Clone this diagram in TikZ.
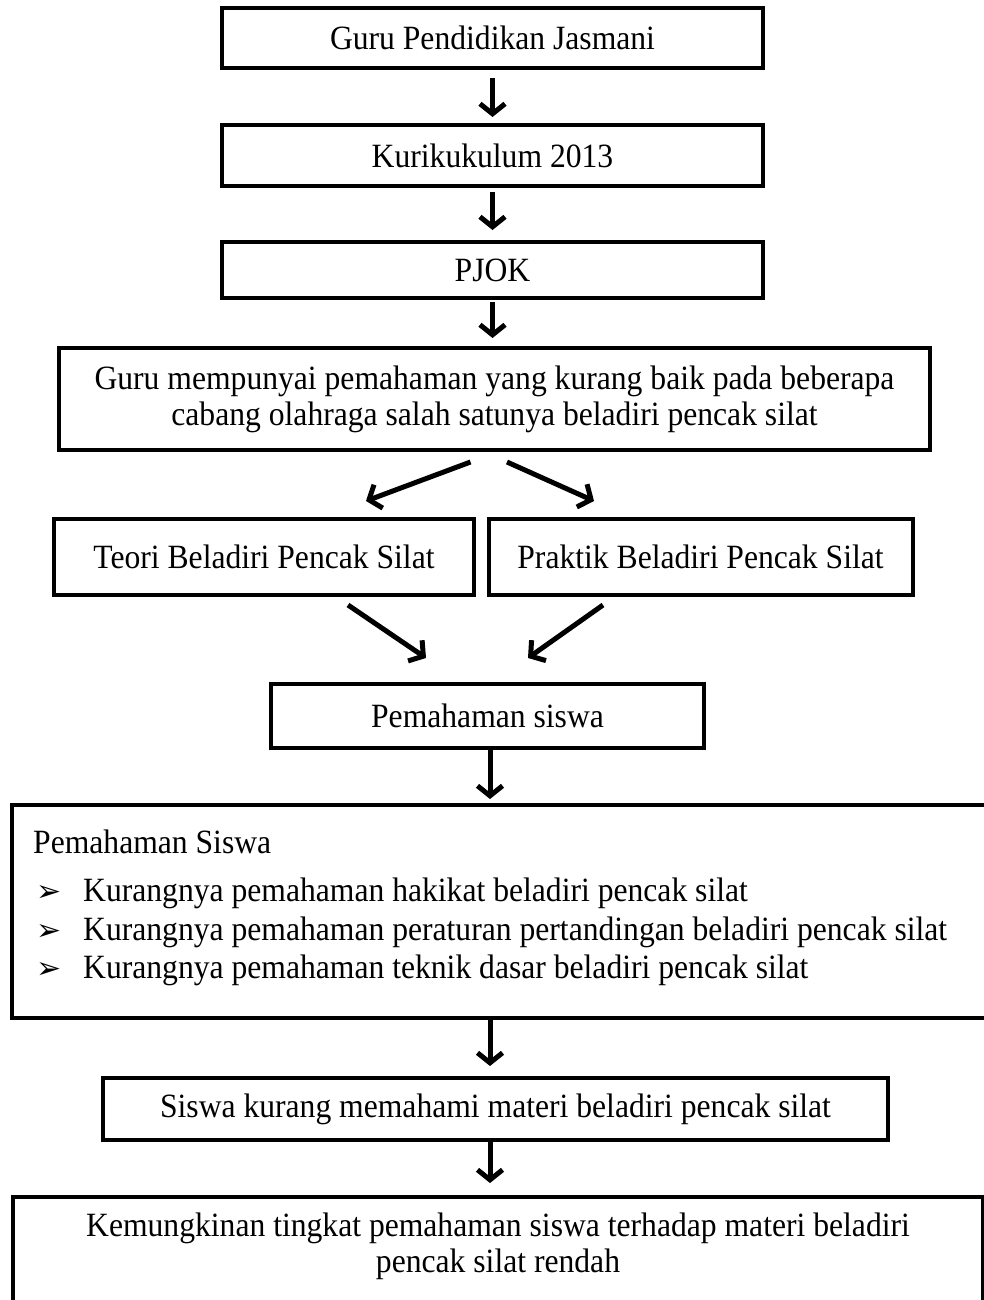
\documentclass[tikz,border=0pt]{standalone}
\usepackage{fontspec}
\setmainfont[FakeStretch=0.93]{Liberation Serif}
\newfontfamily\simbol{DejaVu Sans}
\usetikzlibrary{arrows.meta}

\begin{document}
\begin{tikzpicture}[x=1pt, y=-1pt,
    every node/.style={font=\fontsize{34}{36}\selectfont, inner sep=0pt},
    kotak/.style={draw, line width=4pt, rectangle, align=center},
    panah/.style={line width=5pt, -{Straight Barb[length=10pt,width=25pt]}}]
  \useasboundingbox (0,0) rectangle (984,1300);

  \node[kotak, minimum width=541pt, minimum height=60pt] (gpj) at (492.5,38) {Guru Pendidikan Jasmani};
  \node[kotak, minimum width=541pt, minimum height=61pt] (kur) at (492.5,155.5) {Kurikukulum 2013};
  \node[kotak, minimum width=541pt, minimum height=56pt] (pjok) at (492.5,270) {PJOK};
  \node[kotak, minimum width=871pt, minimum height=102pt] (guru) at (494.5,399)
    {Guru mempunyai pemahaman yang kurang baik pada beberapa\\cabang olahraga salah satunya beladiri pencak silat};
  \node[kotak, minimum width=420pt, minimum height=76pt] (teori) at (264,557) {Teori Beladiri Pencak Silat};
  \node[kotak, minimum width=424pt, minimum height=76pt] (praktik) at (700.5,557) {Praktik Beladiri Pencak Silat};
  \node[kotak, minimum width=433pt, minimum height=64pt] (pem) at (487.5,716) {Pemahaman siswa};
  \node[kotak, minimum width=990pt, minimum height=213pt] (ps) at (507,911.5) {};
  \node[anchor=west] (judul) at (33,842) {Pemahaman Siswa};
  \foreach \t [count=\i] in {Kurangnya pemahaman hakikat beladiri pencak silat,
      Kurangnya pemahaman peraturan pertandingan beladiri pencak silat,
      Kurangnya pemahaman teknik dasar beladiri pencak silat} {
    \node[anchor=west] (poin\i) at (36,{855+38.5*\i})
      {\makebox[47pt][l]{\simbol\fontsize{30}{30}\selectfont ➢}\t};
  }
  \node[kotak, minimum width=785pt, minimum height=62pt] (sis) at (495.5,1109) {Siswa kurang memahami materi beladiri pencak silat};
  \node[kotak, minimum width=970pt, minimum height=150pt] (kem) at (498,1272) {};
  \node[align=center] (kemteks) at (498,1246)
    {Kemungkinan tingkat pemahaman siswa terhadap materi beladiri\\pencak silat rendah};

  \draw[panah] ([yshift=-8pt]gpj.south) -- ([yshift=6pt]kur.north);
  \draw[panah] ([yshift=-4pt]kur.south) -- ([yshift=10pt]pjok.north);
  \draw[panah] ([yshift=-2pt]pjok.south) -- ([yshift=8pt]pjok.south |- guru.north);
  \draw[panah] ([xshift=-24pt,yshift=-10pt]guru.south) -- ([xshift=102pt,yshift=16pt]teori.north);
  \draw[panah] ([xshift=12.5pt,yshift=-10pt]guru.south) -- ([xshift=-106.5pt,yshift=16pt]praktik.north);
  \draw[panah] ([xshift=84pt,yshift=-8pt]teori.south) -- ([xshift=-61.5pt,yshift=24pt]pem.north);
  \draw[panah] ([xshift=-97.5pt,yshift=-8pt]praktik.south) -- ([xshift=40.5pt,yshift=24pt]pem.north);
  \draw[panah] ([xshift=2.5pt]pem.south) -- ([xshift=2.5pt,yshift=4pt]pem.south |- ps.north);
  \draw[panah] ([xshift=-17pt]ps.south) -- ([xshift=-17pt,yshift=10pt]ps.south |- sis.north);
  \draw[panah] ([xshift=-5.5pt,yshift=2pt]sis.south) -- ([xshift=-5.5pt,yshift=12pt]sis.south |- kem.north);
\end{tikzpicture}
\end{document}
